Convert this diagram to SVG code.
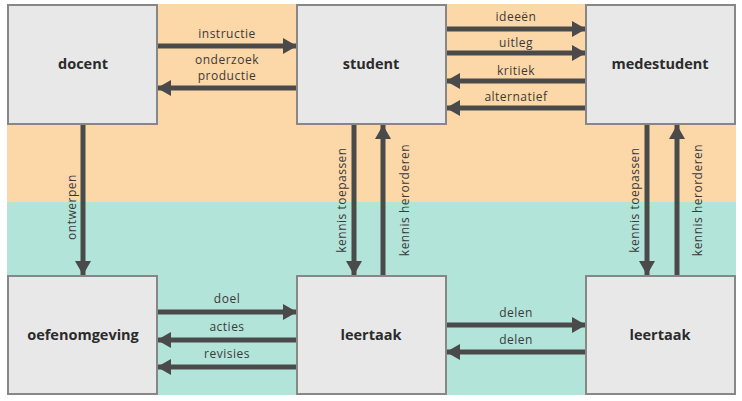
<svg xmlns="http://www.w3.org/2000/svg" width="742" height="401" viewBox="0 0 742 401">
<defs>
<style>
.box{fill:#e8e8e8;stroke:#878787;stroke-width:2}
.t{font-family:"Open Sans","Liberation Sans",sans-serif;font-weight:bold;font-size:14.5px;fill:#2b2b2b;text-anchor:middle}
.l{font-family:"Open Sans","Liberation Sans",sans-serif;font-size:12px;letter-spacing:0.5px;fill:#3a3a3a;text-anchor:middle}
.c{stroke:#4a4a4a;stroke-width:5;fill:none;marker-end:url(#a)}
</style>
<marker id="a" markerUnits="userSpaceOnUse" markerWidth="16" markerHeight="16" refX="14" refY="8" orient="auto"><path d="M0,0 L14,8 L0,16 Z" fill="#4a4a4a"/></marker>
</defs>
<rect x="7" y="4" width="729" height="198" fill="#fcd7a8"/>
<rect x="7" y="202" width="729" height="193" fill="#b2e4d9"/>
<g id="connectors">
<path class="c" d="M157,46 H297"/><path class="c" d="M297,88 H157"/>
<path class="c" d="M446,29 H586"/><path class="c" d="M446,53 H586"/>
<path class="c" d="M586,81 H446"/><path class="c" d="M586,108 H446"/>
<path class="c" d="M83,124 V275"/>
<path class="c" d="M354,124 V275"/><path class="c" d="M383,276 V125"/>
<path class="c" d="M647,124 V275"/><path class="c" d="M677,276 V125"/>
<path class="c" d="M157,312 H297"/><path class="c" d="M297,340 H157"/><path class="c" d="M297,367 H157"/>
<path class="c" d="M446,325 H586"/><path class="c" d="M586,352 H446"/>
<text class="l" x="227" y="38">instructie</text>
<text class="l" x="227" y="64">onderzoek</text>
<text class="l" x="227" y="80">productie</text>
<text class="l" x="516" y="21">ideeën</text>
<text class="l" x="516" y="47">uitleg</text>
<text class="l" x="516" y="75">kritiek</text>
<text class="l" x="516" y="101">alternatief</text>
<text class="l" transform="translate(76,207) rotate(-90)">ontwerpen</text>
<text class="l" transform="translate(346,200) rotate(-90)">kennis toepassen</text>
<text class="l" transform="translate(409,200) rotate(-90)">kennis herorderen</text>
<text class="l" transform="translate(639,200) rotate(-90)">kennis toepassen</text>
<text class="l" transform="translate(702,200) rotate(-90)">kennis herorderen</text>
<text class="l" x="227" y="303">doel</text>
<text class="l" x="227" y="331">acties</text>
<text class="l" x="227" y="358">revisies</text>
<text class="l" x="516" y="317">delen</text>
<text class="l" x="516" y="344">delen</text>
</g>
<g id="docent"><rect class="box" x="8" y="5" width="149" height="119"/><text class="t" x="83" y="69">docent</text></g>
<g id="student"><rect class="box" x="297" y="5" width="149" height="119"/><text class="t" x="371" y="69">student</text></g>
<g id="medestudent"><rect class="box" x="586" y="5" width="149" height="119"/><text class="t" x="660" y="69">medestudent</text></g>
<g id="oefenomgeving"><rect class="box" x="8" y="276" width="149" height="118"/><text class="t" x="83" y="340">oefenomgeving</text></g>
<g id="leertaak1"><rect class="box" x="297" y="276" width="149" height="118"/><text class="t" x="371" y="340">leertaak</text></g>
<g id="leertaak2"><rect class="box" x="586" y="276" width="149" height="118"/><text class="t" x="660" y="340">leertaak</text></g>
</svg>
